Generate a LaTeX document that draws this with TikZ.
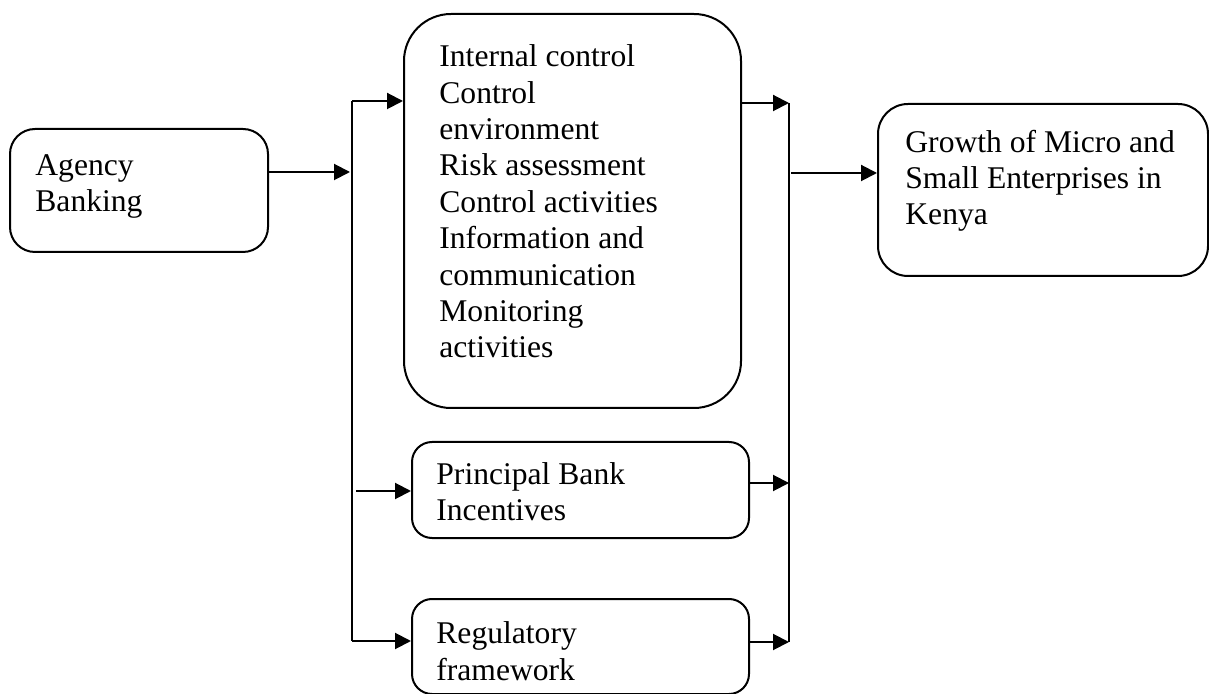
\documentclass[tikz,border=0pt]{standalone}
\usepackage{fontspec}
\setmainfont{Liberation Serif}
\usetikzlibrary{arrows.meta}
\tikzset{
  box/.style={draw=black, line width=1pt, inner sep=0pt, anchor=north west},
  txt/.style={inner sep=0pt, anchor=base west, align=left, font=\fontsize{15.8}{18.2}\selectfont},
  arr/.style={line width=1pt, -{Triangle[length=8pt,width=8pt]}},
  bus/.style={line width=1pt}
}
\begin{document}
\begin{tikzpicture}[x=0.5pt,y=-0.5pt]
\useasboundingbox (0,0) rectangle (1209,694);
% boxes
\node[box, rounded corners=12.5pt, minimum width=129pt, minimum height=61.5pt] (ag) at (9,128) {};
\node[box, rounded corners=23.5pt, minimum width=168.5pt, minimum height=197pt] (ic) at (403,13) {};
\node[box, rounded corners=10pt, minimum width=168.5pt, minimum height=48pt] (pb) at (411,441) {};
\node[box, rounded corners=10pt, minimum width=168.5pt, minimum height=47.5pt] (rf) at (411,598) {};
\node[box, rounded corners=15pt, minimum width=165pt, minimum height=86pt] (gr) at (877,103) {};
% texts (anchored at the baseline of their last line)
\node[txt] (agt) at (35,212) {Agency\\Banking};
\node[txt] (ict) at (439,358) {Internal control\\Control\\environment\\Risk assessment\\Control activities\\Information and\\communication\\Monitoring\\activities};
\node[txt] (pbt) at (436,521) {Principal Bank\\Incentives};
\node[txt] (rft) at (436,680) {Regulatory\\framework};
\node[txt] (grt) at (905,225) {Growth of Micro and\\Small Enterprises in\\Kenya};
% bus coordinates
\coordinate (lt) at (352,101);
\coordinate (lb) at (352,641);
\coordinate (agin) at (350,172);
\coordinate (pbs) at (356,491);
\coordinate (rt) at (789,103);
\coordinate (rb) at (789,642);
\coordinate (pbe) at (789,483);
\coordinate (grs) at (791,173);
% buses
\draw[bus] (lt) -- (lb);
\draw[bus] (rt) -- (rb);
% connectors
\draw[arr] (agin -| ag.east) -- (agin);
\draw[arr] (lt) -- (lt -| ic.west);
\draw[arr] (pbs) -- (pbs -| pb.west);
\draw[arr] (lb) -- (lb -| rf.west);
\draw[arr] (rt -| ic.east) -- (rt);
\draw[arr] (pbe -| pb.east) -- (pbe);
\draw[arr] (rb -| rf.east) -- (rb);
\draw[arr] (grs) -- (grs -| gr.west);
\end{tikzpicture}
\end{document}
